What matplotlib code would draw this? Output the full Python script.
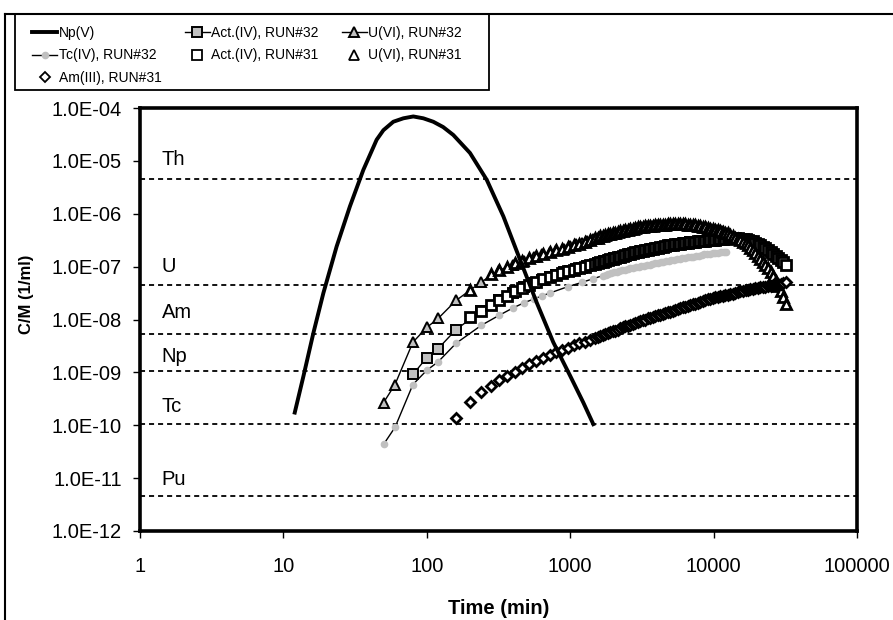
import numpy as np
import matplotlib.pyplot as plt
from matplotlib.lines import Line2D
from matplotlib.patches import Rectangle
from matplotlib.ticker import FixedLocator, FuncFormatter, NullLocator

plt.rcParams['font.family'] = ['Liberation Sans', 'DejaVu Sans']

# Np(V) curve (time in min, log10 of C/M)
np_time = [12.0, 13.8, 16.2, 19.0, 23.5, 29.1, 36.1, 44.7, 49.8, 58.4, 68.6, 80.5, 94.6,
           111, 130, 153, 200, 262, 342, 447, 584, 762, 997, 1234, 1449]
np_log = [-9.76, -9.07, -8.25, -7.50, -6.62, -5.86, -5.17, -4.60, -4.42, -4.26, -4.195, -4.16, -4.195,
          -4.26, -4.36, -4.51, -4.85, -5.36, -6.05, -6.87, -7.68, -8.43, -9.06, -9.57, -9.98]

# RUN#32, U(VI) and Act.(IV) (time in min, log10 of C/M)
t32 = [50, 60, 80, 100, 120, 160, 240, 320, 400, 480,
       560, 640, 720, 800, 900, 1000, 1100, 1200, 1320, 1440,
       1570, 1710, 1860, 2030, 2210, 2410, 2630, 2870, 3130, 3410,
       3720, 4060, 4420, 4820, 5260, 5730, 6250, 6810, 7430, 8100,
       8830, 9630, 10500, 11450, 12480]
u32_log = [-9.57, -9.23, -8.43, -8.15, -7.98, -7.64, -7.29, -7.07, -6.96, -6.89,
           -6.81, -6.76, -6.72, -6.69, -6.66, -6.61, -6.58, -6.55, -6.52, -6.48,
           -6.45, -6.42, -6.39, -6.37, -6.34, -6.31, -6.28, -6.27, -6.25, -6.24,
           -6.23, -6.22, -6.21, -6.20, -6.20, -6.20, -6.20, -6.21, -6.22, -6.23,
           -6.25, -6.28, -6.31, -6.33, -6.37]
act32_log = [np.nan, np.nan, -9.04, -8.72, -8.55, -8.19, -7.84, -7.63, -7.49, -7.39,
             -7.31, -7.25, -7.20, -7.16, -7.11, -7.08, -7.05, -7.02, -6.99, -6.96,
             -6.94, -6.90, -6.88, -6.84, -6.82, -6.79, -6.76, -6.74, -6.71, -6.69,
             -6.67, -6.65, -6.62, -6.61, -6.59, -6.57, -6.55, -6.54, -6.53, -6.52,
             -6.51, -6.50, -6.49, -6.48, -6.47]

# RUN#32, Tc(IV)
t_tc32 = [50, 60, 80, 100, 120, 160, 240, 320, 400, 480,
          560, 640, 720, 960, 1200, 1440, 1690,
          1765, 1845, 1930, 2015, 2105, 2200, 2300, 2405, 2515, 2630,
          2745, 2870, 3000, 3135, 3275, 3420, 3575, 3735, 3905, 4080,
          4265, 4455, 4655, 4865, 5085, 5310, 5550, 5800, 6060, 6335,
          6620, 6915, 7230, 7550, 7890, 8245, 8620, 9005, 9410, 9835,
          10280, 10740, 11225, 11730, 12255]
tc32_log = [-10.36, -10.04, -9.23, -8.96, -8.80, -8.45, -8.11, -7.92, -7.78, -7.68,
            -7.61, -7.55, -7.50, -7.38, -7.30, -7.23, -7.17,
            -7.16, -7.14, -7.13, -7.11, -7.10, -7.08, -7.07, -7.06, -7.05, -7.03,
            -7.02, -7.01, -7.00, -6.99, -6.98, -6.97, -6.96, -6.95, -6.94, -6.93,
            -6.92, -6.91, -6.90, -6.89, -6.88, -6.87, -6.86, -6.85, -6.84, -6.83,
            -6.82, -6.81, -6.81, -6.80, -6.79, -6.78, -6.77, -6.77, -6.76, -6.75,
            -6.74, -6.74, -6.73, -6.72, -6.72]

# RUN#31 sampling times and log10(C/M)
t31 = [160, 200, 240, 280, 320, 360, 410, 460, 520, 580,
       650, 720, 800, 880, 970, 1060, 1160, 1270, 1380, 1500,
       1560, 1625, 1690, 1760, 1830, 1905, 1985, 2065, 2150, 2240,
       2330, 2425, 2525, 2630, 2735, 2850, 2965, 3085,
       3215, 3345, 3480, 3625, 3770, 3925, 4085, 4255, 4430, 4610, 4800, 4995,
       5200, 5415, 5635, 5870, 6110, 6360, 6620, 6890, 7175, 7470,
       7775, 8095, 8425, 8770, 9130, 9505, 9895, 10300,
       10720, 11160, 11620, 12100, 12595, 13110, 13650, 14210, 14790, 15400, 16030,
       16690, 17370, 18080, 18825, 19595, 20400, 21235, 22105, 23010, 23955,
       24935, 25960, 27025, 28130, 29285, 30485, 31735]
am31_log = [-9.86, -9.56, -9.38, -9.26, -9.15, -9.07, -8.99, -8.92, -8.85, -8.79,
            -8.73, -8.67, -8.62, -8.57, -8.53, -8.49, -8.45, -8.42, -8.39, -8.35,
            -8.33, -8.31, -8.30, -8.28, -8.26, -8.24, -8.22, -8.21, -8.19, -8.17,
            -8.15, -8.13, -8.12, -8.10, -8.08, -8.06, -8.04, -8.03,
            -8.01, -8.00, -7.98, -7.97, -7.95, -7.94, -7.92, -7.91, -7.89, -7.88, -7.86, -7.85,
            -7.83, -7.82, -7.80, -7.79, -7.77, -7.76, -7.74, -7.73, -7.71, -7.70,
            -7.68, -7.67, -7.65, -7.64, -7.62, -7.61, -7.59, -7.58,
            -7.57, -7.56, -7.55, -7.54, -7.53, -7.52, -7.51, -7.49, -7.48, -7.47, -7.46,
            -7.45, -7.44, -7.43, -7.42, -7.41, -7.40, -7.39, -7.39, -7.38, -7.37,
            -7.36, -7.35, -7.34, -7.33, -7.32, -7.31, -7.30]
u31_log = [np.nan, -7.45, np.nan, -7.14, -7.06, -7.00, -6.94, -6.90, -6.84, -6.80,
           -6.76, -6.72, -6.69, -6.66, -6.62, -6.60, -6.57, -6.53, -6.50, -6.46,
           -6.45, -6.43, -6.42, -6.40, -6.39, -6.38, -6.37, -6.36, -6.35, -6.33,
           -6.32, -6.31, -6.30, -6.28, -6.28, -6.27, -6.26, -6.25,
           -6.25, -6.24, -6.24, -6.23, -6.23, -6.22, -6.22, -6.21, -6.21, -6.21, -6.20, -6.20,
           -6.20, -6.20, -6.20, -6.20, -6.20, -6.20, -6.21, -6.21, -6.22, -6.22,
           -6.23, -6.24, -6.25, -6.26, -6.27, -6.28, -6.29, -6.30,
           -6.31, -6.33, -6.34, -6.36, -6.37, -6.40, -6.42, -6.45, -6.47, -6.50, -6.53,
           -6.56, -6.60, -6.64, -6.69, -6.74, -6.80, -6.85, -6.91, -6.97, -7.03,
           -7.10, -7.18, -7.27, -7.36, -7.47, -7.58, -7.70]
act31_log = [np.nan, -7.96, -7.84, -7.73, -7.63, -7.55, -7.47, -7.41, -7.35, -7.29,
             -7.24, -7.20, -7.16, -7.12, -7.09, -7.06, -7.03, -7.00, -6.97, -6.95,
             -6.94, -6.92, -6.91, -6.89, -6.88, -6.86, -6.85, -6.83, -6.82, -6.81,
             -6.79, -6.78, -6.77, -6.76, -6.75, -6.73, -6.72, -6.71,
             -6.70, -6.69, -6.68, -6.67, -6.66, -6.65, -6.64, -6.63, -6.62, -6.61, -6.60, -6.60,
             -6.59, -6.58, -6.57, -6.57, -6.56, -6.55, -6.55, -6.54, -6.53, -6.53,
             -6.52, -6.52, -6.51, -6.51, -6.50, -6.50, -6.49, -6.49,
             -6.48, -6.48, -6.47, -6.47, -6.46, -6.46, -6.46, -6.46, -6.46, -6.47, -6.47,
             -6.48, -6.49, -6.51, -6.52, -6.55, -6.57, -6.60, -6.62, -6.65, -6.68,
             -6.72, -6.76, -6.79, -6.83, -6.88, -6.92, -6.97]

# detection limits
limit_names = ['Th', 'U', 'Am', 'Np', 'Tc', 'Pu']
limit_values = [4.5e-6, 4.4e-8, 5.3e-9, 1.07e-9, 1.07e-10, 4.5e-12]
limit_label_y = [1.05e-5, 1.0e-7, 1.35e-8, 2.0e-9, 2.3e-10, 9.5e-12]


def vals(logs):
    return 10 ** np.array(logs, dtype=float)


fig = plt.figure(figsize=(8.93, 6.2), dpi=100)
ax = fig.add_axes([140 / 893, 1 - 531 / 620, 717 / 893, 423 / 620])

grey = '#c0c0c0'
for v in limit_values:
    ax.axhline(v, color='black', lw=1.3, ls=(0, (2.8, 2.2)), zorder=1)
for name, yl in zip(limit_names, limit_label_y):
    ax.text(1.42, yl, name, fontsize=14.5, va='center', ha='left')

h_tc32, = ax.plot(t_tc32, vals(tc32_log), color='black', lw=1, marker='o', ms=4.5,
                  mfc=grey, mec=grey, zorder=2)
h_act32, = ax.plot(t32, vals(act32_log), color='black', lw=1, marker='s', ms=6.5,
                   mfc=grey, mec='black', mew=1.4, zorder=3)
h_u32, = ax.plot(t32, vals(u32_log), color='black', lw=1, marker='^', ms=7.5,
                 mfc=grey, mec='black', mew=1.4, zorder=3)
h_act31, = ax.plot(t31, vals(act31_log), ls='none', marker='s', ms=6.5,
                   mfc='white', mec='black', mew=2.0, zorder=4)
h_u31, = ax.plot(t31, vals(u31_log), ls='none', marker='^', ms=7.5,
                 mfc='white', mec='black', mew=2.0, zorder=4)
h_am31, = ax.plot(t31, vals(am31_log), ls='none', marker='D', ms=5.5,
                  mfc='white', mec='black', mew=2.0, zorder=4)
h_np, = ax.plot(np_time, vals(np_log), color='black', lw=2.8, zorder=6)

ax.set_xscale('log')
ax.set_yscale('log')
ax.set_xlim(1, 1e5)
ax.set_ylim(1e-12, 1e-4)
ax.xaxis.set_major_locator(FixedLocator([1, 10, 100, 1000, 10000, 100000]))
ax.xaxis.set_major_formatter(FuncFormatter(lambda v, p: f'{v:g}'))
ax.yaxis.set_major_locator(FixedLocator([10.0 ** k for k in range(-12, -3)]))
ax.yaxis.set_major_formatter(FuncFormatter(lambda v, p: f'{v:.1E}'))
ax.xaxis.set_minor_locator(NullLocator())
ax.yaxis.set_minor_locator(NullLocator())
ax.tick_params(direction='out', length=5, width=1, labelsize=14.5)
ax.tick_params(axis='x', pad=14)
ax.tick_params(axis='y', pad=8)
for s in ax.spines.values():
    s.set_linewidth(2.6)

fig.text(498.5 / 893, 1 - 608 / 620, 'Time (min)', fontsize=14.5, fontweight='bold',
         ha='center', va='center')
fig.text(27 / 893, 1 - 294 / 620, 'C/M (1/ml)', fontsize=12, fontweight='bold',
         ha='center', va='center', rotation=90)

# outer chart border (top and left edges visible)
fig.add_artist(Line2D([5 / 893, 1.0], [1 - 14 / 620] * 2, transform=fig.transFigure,
                      color='black', lw=1.5))
fig.add_artist(Line2D([5 / 893] * 2, [0, 1 - 14 / 620], transform=fig.transFigure,
                      color='black', lw=1.5))
# legend box
fig.add_artist(Rectangle((15 / 893, 1 - 90 / 620), 474 / 893, 76 / 620,
                         transform=fig.transFigure, fill=False, edgecolor='black', lw=1.3))

handles = [h_np, h_tc32, h_am31, h_act32, h_act31, h_u32, h_u31]
labels = ['Np(V)', 'Tc(IV), RUN#32', 'Am(III), RUN#31', 'Act.(IV), RUN#32',
          'Act.(IV), RUN#31', 'U(VI), RUN#32', 'U(VI), RUN#31']
leg = fig.legend(handles, labels, loc='upper left', ncol=3, mode='expand',
                 bbox_to_anchor=(28 / 893, 1 - 88 / 620, 438 / 893, 66 / 620),
                 bbox_transform=fig.transFigure, borderaxespad=0, fontsize=10,
                 numpoints=1, handlelength=1.8, handletextpad=0.1, labelspacing=0.6,
                 frameon=False, borderpad=0.3)
for h in leg.legend_handles[4:5] + leg.legend_handles[6:7] + leg.legend_handles[2:3]:
    h.set_markeredgewidth(1.3)

fig.savefig('out.png', dpi=100)
